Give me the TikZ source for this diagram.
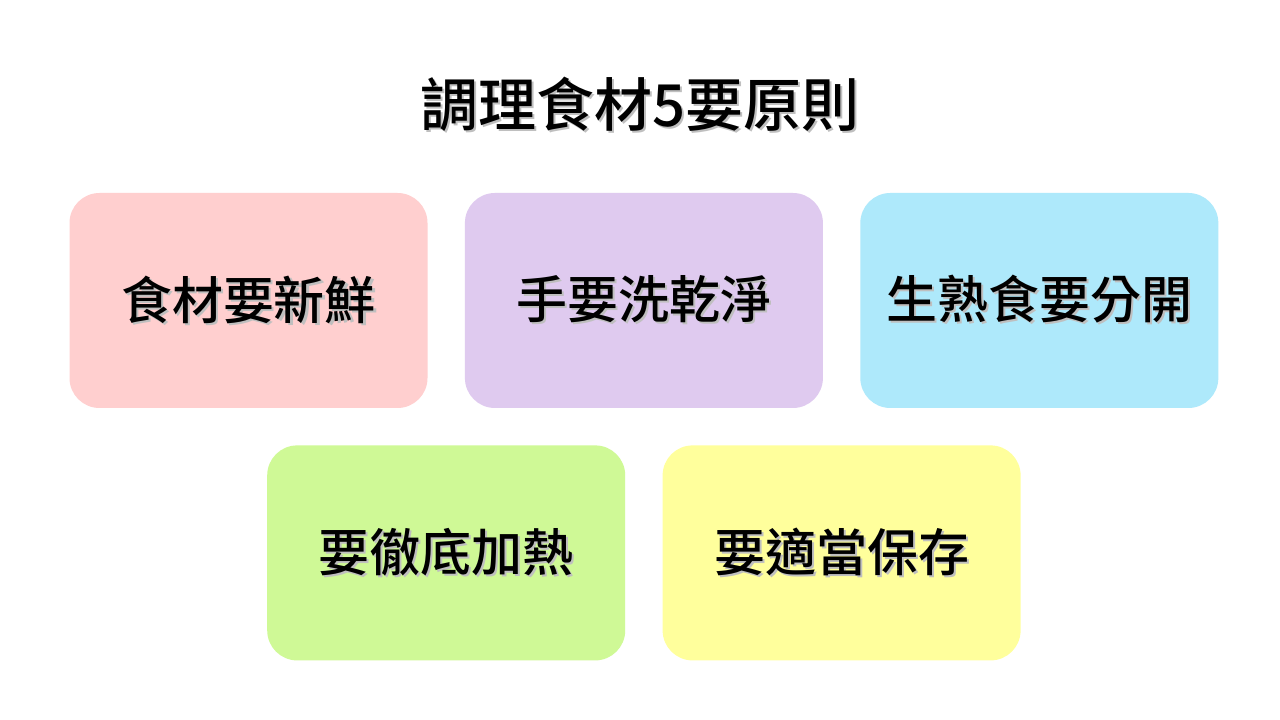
\documentclass[tikz,border=0pt]{standalone}
\usepackage{fontspec}
\usepackage{tikz}
\usetikzlibrary{%
	calc,%
	positioning
}
\newfontfamily\cjk{Noto Sans CJK TC}[UprightFont={* Medium}]

% text with a soft drop shadow
\newcommand{\shtext}[1]{\makebox[0pt][l]{\raisebox{-0.6pt}{\hspace{0.6pt}\textcolor{black!25}{#1}}}#1}

\definecolor{boxpink}{HTML}{FFCFCF}
\definecolor{boxpurple}{HTML}{DFCAEF}
\definecolor{boxblue}{HTML}{AEE9FB}
\definecolor{boxgreen}{HTML}{CFF996}
\definecolor{boxyellow}{HTML}{FFFF9C}

\tikzset{
	rule/.style={rectangle, rounded corners=0.3cm, minimum width=3.58cm, minimum height=2.15cm,
		inner sep=0pt, font=\cjk\fontsize{14.5pt}{16pt}\selectfont}
}

\begin{document}
\begin{tikzpicture}
		\useasboundingbox[fill=white] (0,0) rectangle (12.8,-7.2);
		
		% Title
		\node[font=\cjk\fontsize{16.5pt}{18pt}\selectfont] (title) at (6.40,-1.05) {\shtext{調理食材5要原則}};
		
		% First row
		\node[rule, fill=boxpink] (fresh) at (2.485,-3.005) {\shtext{食材要新鮮}};
		\node[rule, fill=boxpurple, right=0.36cm of fresh] (wash) {\shtext{手要洗乾淨}};
		\node[rule, fill=boxblue, right=0.36cm of wash] (apart) {\shtext{生熟食要分開}};
		
		% Second row
		\node[rule, fill=boxgreen, anchor=north] (heat) at ($(fresh.south)!0.5!(wash.south)+(0,-0.36)$) {\shtext{要徹底加熱}};
		\node[rule, fill=boxyellow, right=0.36cm of heat] (store) {\shtext{要適當保存}};
	\end{tikzpicture}
\end{document}
